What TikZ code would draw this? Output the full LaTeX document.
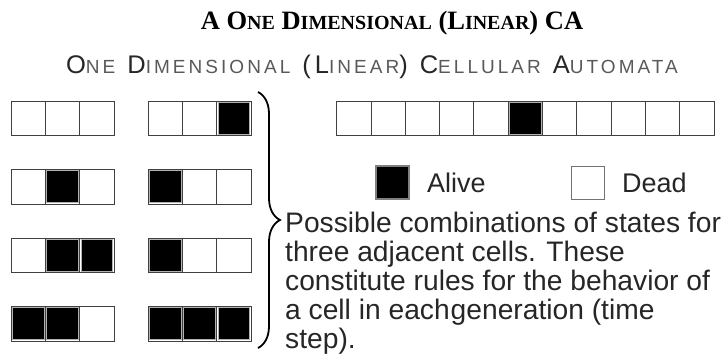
\documentclass[tikz,border=0pt]{standalone}
\usepackage{fontspec}
\setmainfont{Liberation Sans}
\newfontfamily\titlefont{Liberation Serif}
\newfontfamily\subfont[LetterSpace=16]{Liberation Sans}
\usetikzlibrary{decorations.pathreplacing}

% fake small caps for the headings
\newcommand\tbig[1]{{\fontsize{26.5}{26.5}\selectfont #1}}
\newcommand\tsml[1]{{\fontsize{20}{20}\selectfont #1}}
\newcommand\sbig[1]{{\fontsize{25.5}{25.5}\selectfont\color{black!85}#1}}
\newcommand\ssml[1]{{\fontsize{19}{19}\selectfont\color{black!65}#1}}
\newcommand\gap{\hspace{12pt}}

\tikzset{
  cell/.style={rectangle, draw=black!75, fill=white, line width=0.9pt,
    minimum width=34.4pt, minimum height=34.7pt, inner sep=0pt, outer sep=0pt},
  alive/.style={cell, path picture={
    \draw[gray!60, fill=black, line width=0.9pt]
      ([shift={(1.4pt,1.4pt)}]path picture bounding box.south west) rectangle
      ([shift={(-1.4pt,-1.4pt)}]path picture bounding box.north east);}},
  keybox/.style={rectangle, draw=black!55, line width=0.8pt,
    minimum width=33pt, minimum height=33pt, inner sep=0pt},
  keyalive/.style={keybox, fill=black, draw=black!50, line width=1.6pt},
  keytext/.style={anchor=west, inner sep=0pt, text=black!85,
    font=\fontsize{27}{29}\selectfont},
  body/.style={anchor=base west, inner sep=0pt, text=black!85,
    font=\fontsize{28.2}{29}\selectfont},
  bracket/.style={decorate, decoration={brace, amplitude=22pt, aspect=0.5},
    line width=1.8pt},
}

\begin{document}
\begin{tikzpicture}[x=1pt, y=-1pt]
\useasboundingbox (0,0) rectangle (725,362);

% headings
\node[anchor=base, inner sep=0pt, font=\titlefont\bfseries\fontsize{26.5}{26.5}\selectfont] (title) at (392,29)
  {\tbig{A O}\tsml{NE} \tbig{D}\tsml{IMENSIONAL} \tbig{(L}\tsml{INEAR}\tbig{) CA}};
\node[anchor=base, inner sep=0pt, font=\subfont] (subtitle) at (372,73)
  {\sbig{O}\ssml{NE}\gap\sbig{D}\ssml{IMENSIONAL}\gap\sbig{(L}\ssml{INEAR}\sbig{)}\gap\sbig{C}\ssml{ELLULAR}\gap\sbig{A}\ssml{UTOMATA}};

% the eight neighbourhood rules, two columns of four rows
\foreach \row/\ya/\yb/\yc/\za/\zb/\zc/\yy in {
    1/0/0/0/0/0/1/118.35,
    2/0/1/0/1/0/0/186.85,
    3/0/1/1/1/0/0/255.35,
    4/1/1/0/1/1/1/323.85} {
  \foreach \s [count=\i] in {\ya,\yb,\yc} {
    \ifnum\s=1 \node[alive] (l\row-\i) at ({11+17.2+34.4*(\i-1)},\yy) {};
    \else \node[cell] (l\row-\i) at ({11+17.2+34.4*(\i-1)},\yy) {}; \fi
  }
  \foreach \s [count=\i] in {\za,\zb,\zc} {
    \ifnum\s=1 \node[alive] (r\row-\i) at ({148+17.2+34.4*(\i-1)},\yy) {};
    \else \node[cell] (r\row-\i) at ({148+17.2+34.4*(\i-1)},\yy) {}; \fi
  }
}

% brace grouping the rules
\coordinate (btop) at (258,92);
\coordinate (bbot) at (258,348);
\draw[bracket] (btop) -- (bbot);

% a row of eleven cells with one live cell
\foreach \i in {0,...,10} {
  \ifnum\i=5 \node[alive] (c\i) at ({336.7+17.15+34.3*\i},118.35) {};
  \else \node[cell, minimum width=34.3pt] (c\i) at ({336.7+17.15+34.3*\i},118.35) {}; \fi
}

% key
\node[keyalive] (kalive) at (392.5,182.5) {};
\node[keytext] (talive) at (427,182.5) {Alive};
\node[keybox] (kdead) at (587.5,182.5) {};
\node[keytext] (tdead) at (622,182.5) {Dead};

% explanation
\node[body] (p1) at (285,232) {Possible combinations of states for};
\node[body] (p2) at (285,261) {three adjacent cells. These};
\node[body] (p3) at (285,290) {constitute rules for the behavior of};
\node[body] (p4) at (285,319) {a cell in each\hspace{1pt}generation (time};
\node[body] (p5) at (285,348) {step).};
\end{tikzpicture}
\end{document}
